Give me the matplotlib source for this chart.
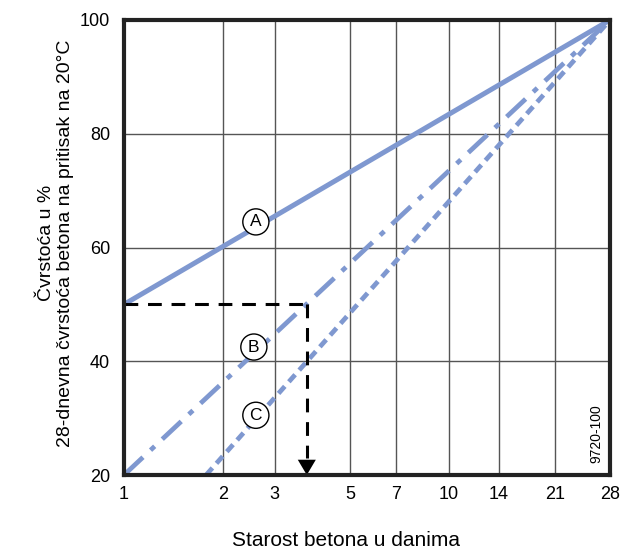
import matplotlib
matplotlib.use("Agg")
import matplotlib.pyplot as plt
import numpy as np

plt.rcParams['font.family'] = ['Liberation Sans', 'DejaVu Sans']

# Data
x_ticks = [1, 2, 3, 5, 7, 10, 14, 21, 28]
x_ticklabels = ["1", "2", "3", "5", "7", "10", "14", "21", "28"]
y_ticks = [20, 40, 60, 80, 100]

line_a_x = [1, 28]
line_a_y = [50, 100]
line_b_x = [1, 28]
line_b_y = [20, 100]
line_c_x = [1.78, 28]
line_c_y = [20, 100]

guide_x = [1, 3.73, 3.73]
guide_y = [50, 50, 20]

labels = ["A", "B", "C"]
label_x = [2.59, 2.55, 2.59]
label_y = [64.5, 42.5, 30.5]

# Hand-drawn day axis: relative position of each tick along the axis (log-like)
scale_knots_x = [1, 2, 3, 5, 7, 10, 14, 21, 28]
scale_knots_pos = [0.0, 0.2031, 0.3101, 0.4650, 0.5597, 0.6687, 0.7716, 0.8868, 1.0]
_lk = np.log(scale_knots_x)
_pk = np.array(scale_knots_pos)


def fwd(x):
    x = np.asarray(x, dtype=float)
    with np.errstate(divide='ignore', invalid='ignore'):
        lx = np.log(np.where(x > 0, x, 1e-9))
    slope0 = (_pk[1] - _pk[0]) / (_lk[1] - _lk[0])
    slope1 = (_pk[-1] - _pk[-2]) / (_lk[-1] - _lk[-2])
    out = np.interp(lx, _lk, _pk)
    out = np.where(lx < _lk[0], _pk[0] + (lx - _lk[0]) * slope0, out)
    out = np.where(lx > _lk[-1], _pk[-1] + (lx - _lk[-1]) * slope1, out)
    return out


def inv(p):
    p = np.asarray(p, dtype=float)
    slope0 = (_lk[1] - _lk[0]) / (_pk[1] - _pk[0])
    slope1 = (_lk[-1] - _lk[-2]) / (_pk[-1] - _pk[-2])
    out = np.interp(p, _pk, _lk)
    out = np.where(p < _pk[0], _lk[0] + (p - _pk[0]) * slope0, out)
    out = np.where(p > _pk[-1], _lk[-1] + (p - _pk[-1]) * slope1, out)
    return np.exp(out)


blue = "#7f98d0"

fig = plt.figure(figsize=(6.22, 5.5), dpi=100)
ax = fig.add_axes([124/622, 1-475/550, (610-124)/622, (475-20)/550])
ax.set_xscale('function', functions=(fwd, inv))
ax.set_xlim(1, 28)
ax.set_ylim(20, 100)

for xv in x_ticks[1:-1]:
    ax.axvline(xv, color="#555555", lw=1.0, zorder=1)
for yv in y_ticks[1:-1]:
    ax.axhline(yv, color="#555555", lw=1.0, zorder=1)

ax.plot(line_a_x, line_a_y, color=blue, lw=3.6, solid_capstyle='butt', zorder=3)
ax.plot(line_b_x, line_b_y, color=blue, lw=3.4, dashes=(5.5, 2.2, 1.2, 2.2), zorder=3)
ax.plot(line_c_x, line_c_y, color=blue, lw=3.4, dashes=(2.0, 1.3), zorder=3)

# black guide with arrow
ax.plot(guide_x[:2], guide_y[:2], color="black", lw=2.2, dashes=(4.5, 3.2), zorder=4)
ax.plot(guide_x[1:], [guide_y[1], guide_y[2] + 3.0], color="black", lw=2.2, dashes=(4.5, 3.2), zorder=4)
ax.annotate("", xy=(guide_x[2], guide_y[2]), xytext=(guide_x[2], guide_y[2] + 3.2),
            arrowprops=dict(arrowstyle="-|>,head_length=1.1,head_width=0.65", color="black", lw=0,
                            shrinkA=0, shrinkB=0, mutation_scale=10), zorder=5)

for lab, lx, ly in zip(labels, label_x, label_y):
    ax.text(lx, ly, lab, ha='center', va='center', fontsize=12.5, zorder=6,
            bbox=dict(boxstyle='circle,pad=0.32', fc='white', ec='black', lw=1.0))

ax.set_xticks(x_ticks)
ax.set_xticklabels(x_ticklabels, fontsize=13)
ax.xaxis.set_minor_locator(matplotlib.ticker.NullLocator())
ax.set_yticks(y_ticks)
ax.set_yticklabels([str(v) for v in y_ticks], fontsize=13)
ax.tick_params(length=0, pad=8)
ax.tick_params(axis='y', pad=10)
for s in ax.spines.values():
    s.set_linewidth(3)
    s.set_color("#222222")
    s.set_zorder(7)

fig.text(56/622, 1-243/550, "Čvrstoća u %\n28-dnevna čvrstoća betona na pritisak na 20°C",
         rotation=90, ha='center', va='center', fontsize=14, linespacing=1.2, multialignment='center')
fig.text(346/622, 1-540/550, "Starost betona u danima", ha='center', va='center', fontsize=15)
fig.text(596/622, 1-434/550, "9720-100", rotation=90, ha='center', va='center', fontsize=10)

fig.savefig("out.png", dpi=100)
